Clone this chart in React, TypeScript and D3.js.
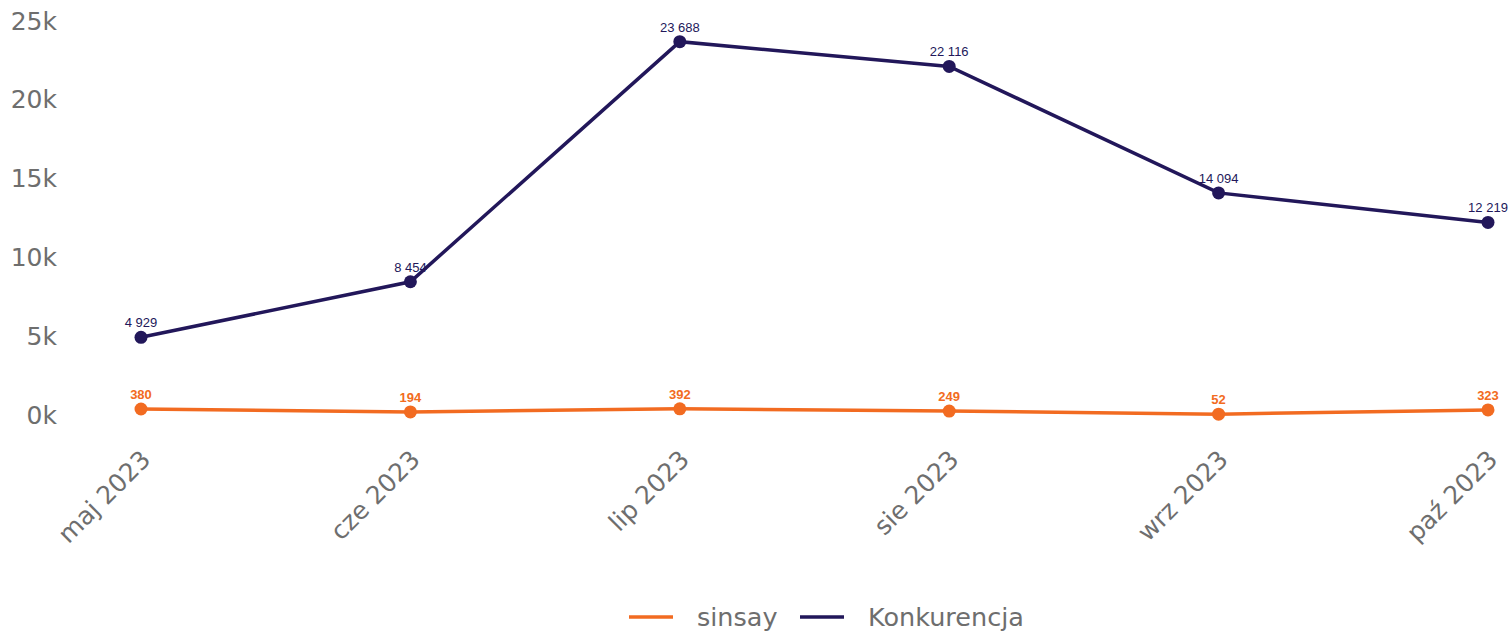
import React from "react";
import * as d3 from "d3";

const months = ["maj 2023", "cze 2023", "lip 2023", "sie 2023", "wrz 2023", "paź 2023"];
const sinsay = [380, 194, 392, 249, 52, 323];
const konkurencja = [4929, 8454, 23688, 22116, 14094, 12219];
const yTicks = [0, 5000, 10000, 15000, 20000, 25000];
const seriesNames = ["sinsay", "Konkurencja"];

const W = 1509;
const H = 632;
const ORANGE = "#f26b21";
const NAVY = "#22175a";
const GRAY = "#6e6e6e";

const fmt = (v: number) => d3.format(",")(v).replace(/,/g, " ");

export default function App() {
  const x = d3.scalePoint<string>().domain(months).range([141, 1488]);
  const y = d3.scaleLinear().domain([0, 25000]).range([415, 21]);
  const line = d3
    .line<number>()
    .x((_, i) => x(months[i]) as number)
    .y((d) => y(d));

  const series = [
    { name: seriesNames[0], values: sinsay, color: ORANGE, bold: true },
    { name: seriesNames[1], values: konkurencja, color: NAVY, bold: false },
  ];

  const legendY = 617;
  let lx = 629;
  const legendItems = series.map((s) => {
    const item = { ...s, x: lx };
    const tw = s.name === "sinsay" ? 78 : 154;
    lx += 44 + 24 + tw + 25;
    return item;
  });

  return (
    <svg
      width={W}
      height={H}
      style={{ position: "absolute", left: 0, top: 0, background: "#fff" }}
      fontFamily="'DejaVu Sans', sans-serif"
    >
      {yTicks.map((t) => (
        <text
          key={t}
          x={57}
          y={y(t)}
          textAnchor="end"
          dominantBaseline="central"
          fontSize={25}
          fill={GRAY}
        >
          {t / 1000 + "k"}
        </text>
      ))}
      {months.map((m) => (
        <text
          key={m}
          transform={`translate(${(x(m) as number) + 11},${461}) rotate(-45)`}
          textAnchor="end"
          fontSize={25}
          fill={GRAY}
        >
          {m}
        </text>
      ))}
      {series.map((s) => (
        <g key={s.name}>
          <path d={line(s.values) as string} fill="none" stroke={s.color} strokeWidth={3.5} />
          {s.values.map((v, i) => (
            <circle key={i} cx={x(months[i])} cy={y(v)} r={6.5} fill={s.color} />
          ))}
          {s.values.map((v, i) => (
            <text
              key={"l" + i}
              x={x(months[i])}
              y={y(v) - 10}
              textAnchor="middle"
              fontSize={13}
              fontFamily="'Liberation Sans', Arial, sans-serif"
              fontWeight={s.bold ? "bold" : "normal"}
              fill={s.color}
            >
              {fmt(v)}
            </text>
          ))}
        </g>
      ))}
      {legendItems.map((s) => (
        <g key={s.name}>
          <line x1={s.x} x2={s.x + 44} y1={legendY} y2={legendY} stroke={s.color} strokeWidth={3.5} />
          <text x={s.x + 68} y={legendY} dominantBaseline="central" fontSize={25.5} fill={GRAY}>
            {s.name}
          </text>
        </g>
      ))}
    </svg>
  );
}
